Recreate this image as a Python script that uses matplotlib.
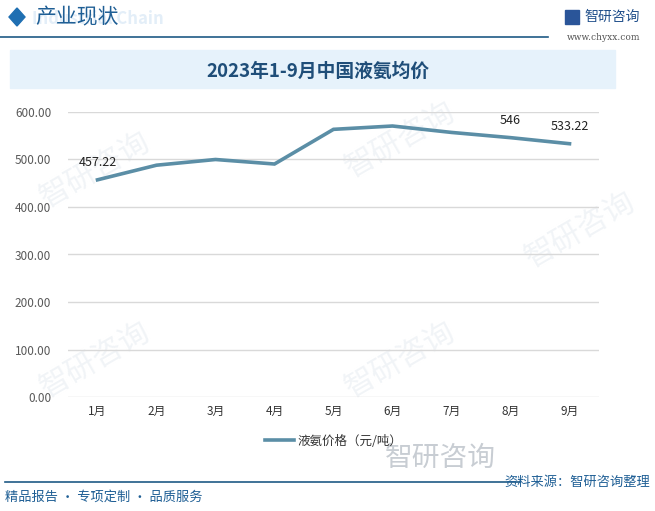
import numpy as np
import matplotlib.pyplot as plt
from matplotlib.patches import Rectangle, Polygon

plt.rcParams['font.family'] = ['Noto Sans CJK SC', 'DejaVu Sans']

months = ["1月", "2月", "3月", "4月", "5月", "6月", "7月", "8月", "9月"]
prices = [457.22, 488, 500, 490.5, 563.5, 570.5, 557, 546, 533.22]
labeled = {0: "457.22", 7: "546", 8: "533.22"}
yticks = [0, 100, 200, 300, 400, 500, 600]

W, H = 655, 511
fig = plt.figure(figsize=(W / 100, H / 100), dpi=100)
fig.patch.set_facecolor("white")

# faint background watermarks
for (wx, wy) in [(95, 170), (400, 140), (95, 360), (400, 360), (580, 230)]:
    fig.text(wx / W, 1 - wy / H, "智研咨询", fontsize=22, color="#f1f4f7",
             rotation=30, ha="center", va="center", zorder=-5)

# header
fig.patches.append(Polygon([(9 / W, 1 - 17 / H), (17 / W, 1 - 8 / H),
                            (25 / W, 1 - 17 / H), (17 / W, 1 - 26 / H)],
                           closed=True, transform=fig.transFigure,
                           color="#1f6fb2", zorder=2))
fig.text(32 / W, 1 - 19 / H, "Industrial Chain", fontsize=12, color="#e3eef8",
         ha="left", va="center", fontweight="bold", zorder=1)
fig.text(35 / W, 1 - 17 / H, "产业现状", fontsize=15, color="#1f5f95",
         ha="left", va="center", zorder=2)
fig.add_artist(plt.Line2D([0, 548 / W], [1 - 37 / H, 1 - 37 / H],
                          color="#1f5a85", lw=1.2, transform=fig.transFigure))
fig.text(640 / W, 1 - 17 / H, "智研咨询", fontsize=10, color="#1f4e8a",
         ha="right", va="center")
fig.patches.append(Rectangle((565 / W, 1 - 24 / H), 14 / W, 14 / H,
                             transform=fig.transFigure, color="#2a5599"))
fig.text(640 / W, 1 - 37 / H, "www.chyxx.com", fontsize=6.5, color="#555555",
         ha="right", va="center", family="DejaVu Serif")

# title band
fig.patches.append(Rectangle((10 / W, 1 - 88 / H), 605 / W, 38 / H,
                             transform=fig.transFigure, color="#e6f2fb", zorder=-4))
fig.text(318 / W, 1 - 71 / H, "2023年1-9月中国液氨均价", fontsize=13.5,
         color="#1f4e79", ha="center", va="center", fontweight="bold")

# chart
ax = fig.add_axes([68 / W, 1 - 397 / H, (599 - 68) / W, (397 - 112) / H])
ax.set_facecolor("none")
x = np.arange(len(months))
ax.plot(x, prices, color="#5b8ea6", lw=2.6, label="液氨价格（元/吨）",
        solid_joinstyle="miter")
for i, t in labeled.items():
    ax.annotate(t, (x[i], prices[i]), xytext=(0, 8), textcoords="offset points",
                ha="center", va="bottom", fontsize=9, color="#222222")
ax.set_xlim(-0.5, len(months) - 0.5)
ax.set_ylim(0, 600)
ax.set_yticks(yticks)
ax.set_yticklabels([f"{v:.2f}" for v in yticks])
ax.set_xticks(x)
ax.set_xticklabels(months)
ax.grid(axis="y", color="#d9d9d9", lw=1)
ax.set_axisbelow(True)
for s in ax.spines.values():
    s.set_visible(False)
ax.tick_params(axis="both", length=0, labelsize=8.5, colors="#595959")
ax.tick_params(axis="y", pad=12)
ax.tick_params(axis="x", pad=6)
for lab in ax.get_xticklabels():
    lab.set_color("#333333")

leg = ax.legend(loc="center", bbox_to_anchor=(0.5, -0.155), frameon=False,
                fontsize=9, handlelength=2.3, handletextpad=0.3)
for t in leg.get_texts():
    t.set_color("#333333")

# footer
fig.text(440 / W, 1 - 458 / H, "智研咨询", fontsize=20, color="#c8cdd3",
         ha="center", va="center", zorder=-3)
fig.add_artist(plt.Line2D([5 / W, 520 / W], [1 - 482 / H, 1 - 482 / H],
                          color="#1f5a85", lw=1.2, transform=fig.transFigure))
fig.text(650 / W, 1 - 482 / H, "资料来源：智研咨询整理", fontsize=9.5,
         color="#1f5f95", ha="right", va="center")
fig.text(5 / W, 1 - 497 / H, "精品报告 · 专项定制 · 品质服务", fontsize=9.5,
         color="#1f5f95", ha="left", va="center")

plt.savefig("out.png", dpi=100)
